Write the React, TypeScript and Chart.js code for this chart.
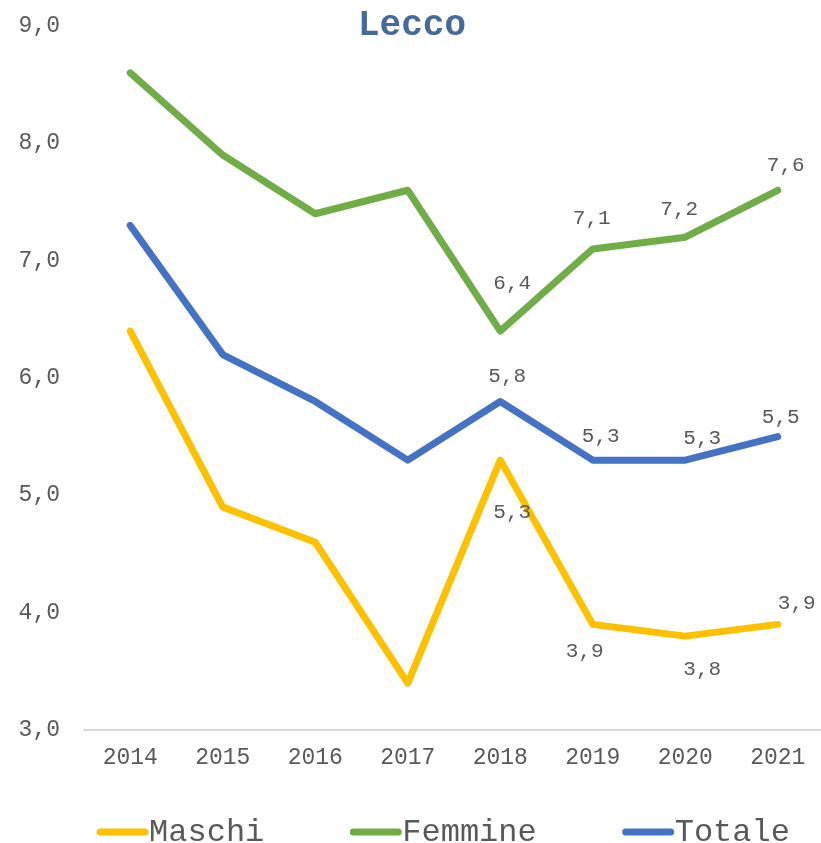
import React, { useEffect, useRef } from "react";
import { Chart, registerables } from "chart.js";

Chart.register(...registerables);

const title = "Lecco";
const years = ["2014", "2015", "2016", "2017", "2018", "2019", "2020", "2021"];
const maschi = [6.4, 4.9, 4.6, 3.4, 5.3, 3.9, 3.8, 3.9];
const femmine = [8.6, 7.9, 7.4, 7.6, 6.4, 7.1, 7.2, 7.6];
const totale = [7.3, 6.2, 5.8, 5.3, 5.8, 5.3, 5.3, 5.5];
const seriesNames = ["Maschi", "Femmine", "Totale"];
const seriesColors = ["#FFC000", "#70AD47", "#4472C4"];
const labelFromIndex = 4;
// label offsets (dx, dy) from each point, for labelled points
const labelOffsets: number[][][] = [
  [[12, 52], [-8, 27], [17, 33], [19, -21]],
  [[12, -48], [-1, -30], [-6, -28], [8, -25]],
  [[7, -25], [8, -24], [17, -22], [3, -19]],
];

const FONT = "'Liberation Mono', 'Courier New', monospace";
const fmt = (v: number) => v.toFixed(1).replace(".", ",");

const labelsPlugin = {
  id: "pointLabels",
  afterDatasetsDraw(chart: any) {
    const ctx = chart.ctx;
    ctx.save();
    ctx.font = `21px ${FONT}`;
    ctx.fillStyle = "#595959";
    ctx.textAlign = "center";
    ctx.textBaseline = "middle";
    chart.data.datasets.forEach((ds: any, di: number) => {
      const meta = chart.getDatasetMeta(di);
      meta.data.forEach((pt: any, i: number) => {
        if (i < labelFromIndex) return;
        const off = labelOffsets[di][i - labelFromIndex];
        ctx.fillText(fmt(ds.data[i]), pt.x + off[0], pt.y + off[1]);
      });
    });
    ctx.restore();
  },
  afterDraw(chart: any) {
    const ctx = chart.ctx;
    const area = chart.chartArea;
    ctx.save();
    // title
    ctx.font = `bold 36px ${FONT}`;
    ctx.fillStyle = "#45699A";
    ctx.textAlign = "center";
    ctx.textBaseline = "middle";
    ctx.fillText(title, 412, 26);
    // legend
    ctx.font = `32px ${FONT}`;
    const sample = 53;
    const gap = 85;
    const widths = seriesNames.map((n) => sample + ctx.measureText(n).width);
    const total = widths.reduce((a, b) => a + b, 0) + gap * (seriesNames.length - 1);
    let x = (area.left + area.right) / 2 - 11 - total / 2;
    const y = 832;
    ctx.textAlign = "left";
    seriesNames.forEach((n, i) => {
      ctx.strokeStyle = seriesColors[i];
      ctx.lineWidth = 7;
      ctx.lineCap = "round";
      ctx.beginPath();
      ctx.moveTo(x + 4, y);
      ctx.lineTo(x + sample - 4, y);
      ctx.stroke();
      ctx.fillStyle = "#595959";
      ctx.fillText(n, x + sample, y + 1);
      x += widths[i] + gap;
    });
    ctx.restore();
  },
};

export default function App() {
  const ref = useRef<HTMLCanvasElement>(null);
  useEffect(() => {
    if (!ref.current) return;
    const data = [maschi, femmine, totale];
    const chart = new Chart(ref.current, {
      type: "line",
      data: {
        labels: years,
        datasets: seriesNames.map((n, i) => ({
          label: n,
          data: data[i],
          borderColor: seriesColors[i],
          backgroundColor: seriesColors[i],
          borderWidth: 7,
          borderCapStyle: "round" as const,
          borderJoinStyle: "round" as const,
          pointRadius: 0,
          tension: 0,
        })),
      },
      options: {
        animation: false,
        responsive: false,
        maintainAspectRatio: false,
        layout: { padding: { top: 26, right: 1, left: 0, bottom: 0 } },
        plugins: {
          legend: { display: false },
          title: { display: false },
          tooltip: { enabled: false },
        },
        scales: {
          x: {
            offset: true,
            grid: { display: false, drawTicks: false },
            border: { display: true, color: "#D9D9D9", width: 2 },
            ticks: {
              color: "#595959",
              font: { family: FONT, size: 23 },
              padding: 14,
              maxRotation: 0,
            },
            afterFit: (s: any) => {
              s.height = 113;
            },
          },
          y: {
            min: 3,
            max: 9,
            grid: { display: false, drawTicks: false },
            border: { display: false },
            ticks: {
              stepSize: 1,
              color: "#595959",
              font: { family: FONT, size: 23 },
              padding: 24,
              callback: (v: any) => fmt(Number(v)),
            },
            afterFit: (s: any) => {
              s.width = 84;
              s.paddingTop = 0;
              s.paddingBottom = 0;
            },
          },
        },
      },
      plugins: [labelsPlugin],
    });
    return () => chart.destroy();
  }, []);
  return (
    <div
      style={{
        position: "fixed",
        left: 0,
        top: 0,
        width: 821,
        height: 843,
        overflow: "hidden",
        background: "#fff",
      }}
    >
      <canvas ref={ref} width={825} height={843} style={{ width: 825, height: 843 }} />
    </div>
  );
}
